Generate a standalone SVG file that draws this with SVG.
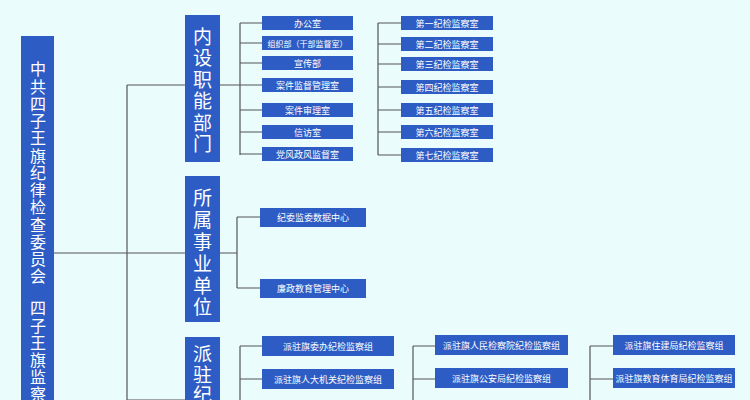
<svg xmlns="http://www.w3.org/2000/svg" width="750" height="400" viewBox="0 0 750 400">
<style>
.b{fill:#2d5cc4}
.t{fill:#fff;font-family:"Noto Sans CJK SC",sans-serif;font-size:9px;text-anchor:middle;dominant-baseline:central}
.v{fill:#fff;font-family:"Noto Sans CJK SC",sans-serif;font-size:19px;text-anchor:middle;dominant-baseline:central}
.m{fill:#fff;font-family:"Noto Sans CJK SC",sans-serif;font-size:16px;text-anchor:middle;dominant-baseline:central}
.l{stroke:#555;stroke-width:1.2;fill:none}
</style>
<rect width="750" height="400" fill="#ebfcfc"/>
<g id="connectors" class="l">
<path d="M54 253H185M127 85V400M127 85H185M127 400H185"/>
<path d="M220 85H240M240 23V155M240 23H262M240 43H262M240 63H262M240 85H262M240 110H262M240 132H262M240 154H262"/>
<path d="M378 23V155M378 23H401M378 44H401M378 64H401M378 87H401M378 110H401M378 132H401M378 155H401"/>
<path d="M220 253H237M237 217V288M237 217H260M237 288H260"/>
<path d="M240 346V400M240 346H262M240 379H262"/>
<path d="M413 346V400M413 346H435M413 379H435"/>
<path d="M590 346V400M590 346H613M590 379H613"/>
</g>
<g id="root"><rect class="b" x="21" y="36" width="33" height="380"/>
<text class="m"><tspan x="38" y="68">中</tspan><tspan x="38" y="86">共</tspan><tspan x="38" y="103">四</tspan><tspan x="38" y="120">子</tspan><tspan x="38" y="137">王</tspan><tspan x="38" y="155">旗</tspan><tspan x="38" y="172">纪</tspan><tspan x="38" y="189">律</tspan><tspan x="38" y="206">检</tspan><tspan x="38" y="224">查</tspan><tspan x="38" y="241">委</tspan><tspan x="38" y="258">员</tspan><tspan x="38" y="275">会</tspan><tspan x="38" y="307">四</tspan><tspan x="38" y="325">子</tspan><tspan x="38" y="342">王</tspan><tspan x="38" y="359">旗</tspan><tspan x="38" y="376">监</tspan><tspan x="38" y="393">察</tspan></text></g>
<g id="cat1"><rect class="b" x="185" y="15" width="35" height="147"/>
<text class="v"><tspan x="202.5" y="35">内</tspan><tspan x="202.5" y="56">设</tspan><tspan x="202.5" y="78">职</tspan><tspan x="202.5" y="99">能</tspan><tspan x="202.5" y="121">部</tspan><tspan x="202.5" y="142">门</tspan></text></g>
<g id="cat2"><rect class="b" x="185" y="176" width="35" height="146"/>
<text class="v"><tspan x="202.5" y="196">所</tspan><tspan x="202.5" y="218">属</tspan><tspan x="202.5" y="240">事</tspan><tspan x="202.5" y="262">业</tspan><tspan x="202.5" y="284">单</tspan><tspan x="202.5" y="305">位</tspan></text></g>
<g id="cat3"><rect class="b" x="185" y="337" width="35" height="80"/>
<text class="v"><tspan x="202.5" y="352">派</tspan><tspan x="202.5" y="373">驻</tspan><tspan x="202.5" y="393">纪</tspan></text></g>
<g id="n1"><rect class="b" x="262" y="16" width="91" height="14"/><text class="t" x="307.5" y="23">办公室</text></g>
<g id="n2"><rect class="b" x="262" y="36" width="91" height="14"/><text class="t" x="307.5" y="43" style="font-size:8px">组织部（干部监督室）</text></g>
<g id="n3"><rect class="b" x="262" y="56" width="91" height="14"/><text class="t" x="307.5" y="63">宣传部</text></g>
<g id="n4"><rect class="b" x="262" y="78" width="91" height="14"/><text class="t" x="307.5" y="85">案件监督管理室</text></g>
<g id="n5"><rect class="b" x="262" y="103" width="91" height="14"/><text class="t" x="307.5" y="110">案件审理室</text></g>
<g id="n6"><rect class="b" x="262" y="125" width="91" height="14"/><text class="t" x="307.5" y="132">信访室</text></g>
<g id="n7"><rect class="b" x="262" y="147" width="91" height="14"/><text class="t" x="307.5" y="154">党风政风监督室</text></g>
<g id="r1"><rect class="b" x="401" y="16" width="92" height="14"/><text class="t" x="447" y="23">第一纪检监察室</text></g>
<g id="r2"><rect class="b" x="401" y="37" width="92" height="14"/><text class="t" x="447" y="44">第二纪检监察室</text></g>
<g id="r3"><rect class="b" x="401" y="57" width="92" height="14"/><text class="t" x="447" y="64">第三纪检监察室</text></g>
<g id="r4"><rect class="b" x="401" y="80" width="92" height="14"/><text class="t" x="447" y="87">第四纪检监察室</text></g>
<g id="r5"><rect class="b" x="401" y="103" width="92" height="14"/><text class="t" x="447" y="110">第五纪检监察室</text></g>
<g id="r6"><rect class="b" x="401" y="125" width="92" height="14"/><text class="t" x="447" y="132">第六纪检监察室</text></g>
<g id="r7"><rect class="b" x="401" y="148" width="92" height="14"/><text class="t" x="447" y="155">第七纪检监察室</text></g>
<g id="s1"><rect class="b" x="260" y="208" width="106" height="19"/><text class="t" x="313" y="217.5">纪委监委数据中心</text></g>
<g id="s2"><rect class="b" x="260" y="279" width="106" height="19"/><text class="t" x="313" y="288.5">廉政教育管理中心</text></g>
<g id="p1"><rect class="b" x="262" y="336" width="132" height="20"/><text class="t" x="328" y="346">派驻旗委办纪检监察组</text></g>
<g id="p2"><rect class="b" x="262" y="369" width="132" height="20"/><text class="t" x="328" y="379">派驻旗人大机关纪检监察组</text></g>
<g id="p3"><rect class="b" x="435" y="335" width="133" height="20"/><text class="t" x="501.5" y="345">派驻旗人民检察院纪检监察组</text></g>
<g id="p4"><rect class="b" x="435" y="368" width="133" height="20"/><text class="t" x="501.5" y="378">派驻旗公安局纪检监察组</text></g>
<g id="p5"><rect class="b" x="613" y="335" width="122" height="20"/><text class="t" x="674" y="345">派驻旗住建局纪检监察组</text></g>
<g id="p6"><rect class="b" x="613" y="368" width="122" height="20"/><text class="t" x="674" y="378">派驻旗教育体育局纪检监察组</text></g>
</svg>
